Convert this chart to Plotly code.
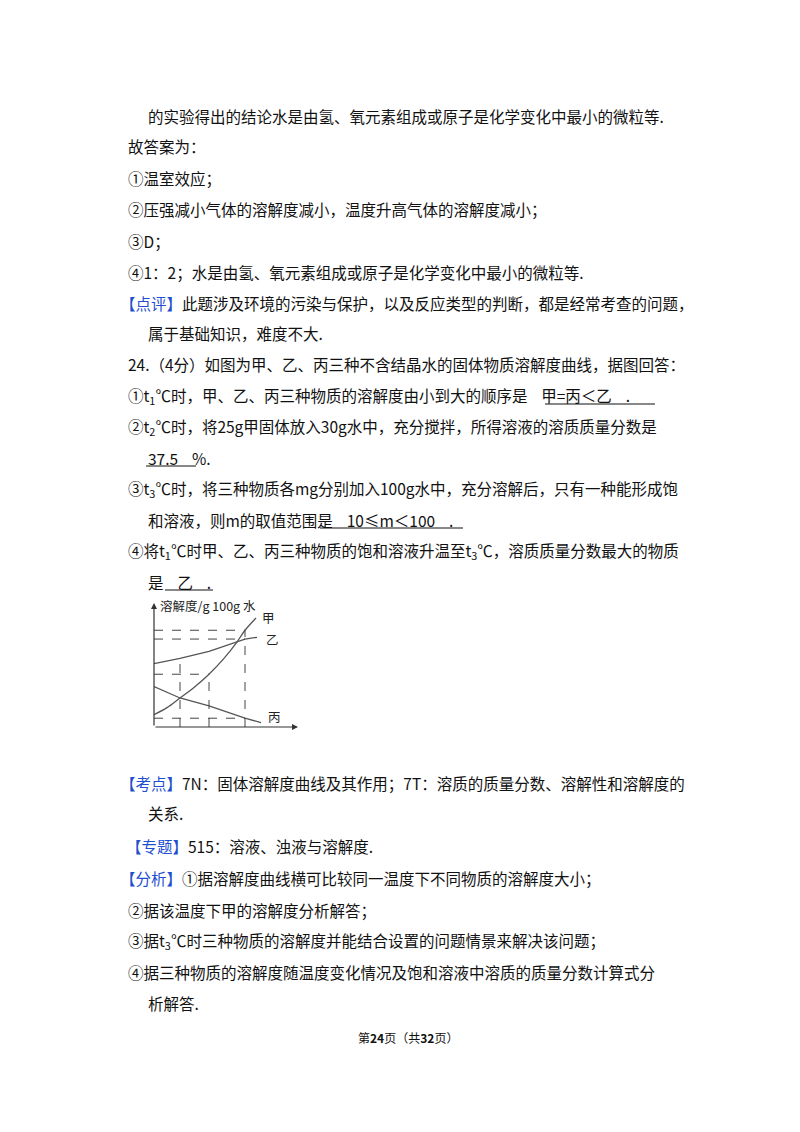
import plotly.graph_objects as go

# curve data (x in chart units where t1=26, t2=55, t3=91)
x_jia = [0, 13, 26, 40, 55, 70, 82, 91, 102]
y_jia = [14, 22, 33, 45, 60, 78, 95, 110, 124]
x_yi = [0, 26, 55, 91, 103]
y_yi = [72, 78, 86, 100, 102]
x_bing = [0, 26, 55, 91, 107]
y_bing = [46, 33, 24, 10, 5]
t_pos = [26, 55, 91]
t_labels = ['t<sub>1</sub>', 't<sub>2</sub>', 't<sub>3</sub>']
y_ticks = [10, 60, 100, 110]

lines = [
    (138, 108, "的实验得出的结论水是由氢、氧元素组成或原子是化学变化中最小的微粒等."),
    (118, 138, "故答案为："),
    (118, 170, "①温室效应；"),
    (118, 201, "②压强减小气体的溶解度减小，温度升高气体的溶解度减小；"),
    (118, 233, "③D；"),
    (118, 264, "④1：2；水是由氢、氧元素组成或原子是化学变化中最小的微粒等."),
    (110, 295, "<span style='color:#1f4fd1'>【点评】</span>此题涉及环境的污染与保护，以及反应类型的判断，都是经常考查的问题，"),
    (138, 325, "属于基础知识，难度不大."),
    (118, 356, "24.（4分）如图为甲、乙、丙三种不含结晶水的固体物质溶解度曲线，据图回答："),
    (118, 388, "①t<sub>1</sub>℃时，甲、乙、丙三种物质的溶解度由小到大的顺序是    甲=丙＜乙    ."),
    (118, 419, "②t<sub>2</sub>℃时，将25g甲固体放入30g水中，充分搅拌，所得溶液的溶质质量分数是"),
    (138, 450, "37.5    %."),
    (118, 481, "③t<sub>3</sub>℃时，将三种物质各mg分别加入100g水中，充分溶解后，只有一种能形成饱"),
    (138, 512, "和溶液，则m的取值范围是    10≤m＜100    ."),
    (118, 543, "④将t<sub>1</sub>℃时甲、乙、丙三种物质的饱和溶液升温至t<sub>3</sub>℃，溶质质量分数最大的物质"),
    (138, 574, "是    乙    ."),
    (110, 775, "<span style='color:#1f4fd1'>【考点】</span>7N：固体溶解度曲线及其作用；7T：溶质的质量分数、溶解性和溶解度的"),
    (138, 805, "关系."),
    (116, 838, "<span style='color:#1f4fd1'>【专题】</span>515：溶液、浊液与溶解度."),
    (110, 870, "<span style='color:#1f4fd1'>【分析】</span>①据溶解度曲线横可比较同一温度下不同物质的溶解度大小；"),
    (118, 902, "②据该温度下甲的溶解度分析解答；"),
    (118, 933, "③据t<sub>3</sub>℃时三种物质的溶解度并能结合设置的问题情景来解决该问题；"),
    (118, 964, "④据三种物质的溶解度随温度变化情况及饱和溶液中溶质的质量分数计算式分"),
    (138, 995, "析解答."),
]
underlines = [(537, 647, 396), (138, 188, 458), (312, 455, 520), (157, 205, 582)]

W, H = 800, 1132


def px(x):
    return x / W


def py(y):
    return 1 - y / H


fig = go.Figure()
black = '#333333'
for xs, ys, shape in [(x_jia, y_jia, 'spline'), (x_yi, y_yi, 'linear'), (x_bing, y_bing, 'linear')]:
    fig.add_trace(go.Scatter(x=xs, y=ys, mode='lines', line=dict(color='#555555', width=1.3, shape=shape),
                             showlegend=False, hoverinfo='skip'))

font = dict(family='Noto Sans CJK SC', size=15.5, color='#111111')
ann = []
for x, y, t in lines:
    ann.append(dict(x=px(x), y=py(y), xref='paper', yref='paper', text=t, showarrow=False,
                    xanchor='left', yanchor='middle', font=font))
ann.append(dict(x=0.5, y=py(1040), xref='paper', yref='paper', text='第<b>24</b>页（共<b>32</b>页）', showarrow=False,
                font=dict(family='Noto Sans CJK SC', size=12, color='#111111')))

shapes = []
for x0, x1, y in underlines:
    shapes.append(dict(type='line', xref='paper', yref='paper', x0=px(x0), x1=px(x1), y0=py(y), y1=py(y),
                       line=dict(color='#111111', width=1)))

# dashed guides
dash = dict(color='#444444', width=1, dash='dash')
guides = [(t_pos[0], y_yi[1]), (t_pos[1], y_jia[4]), (t_pos[2], y_jia[7])]
for tx, ty in guides:
    shapes.append(dict(type='line', xref='x', yref='y', x0=tx, x1=tx, y0=0, y1=ty, line=dash))
for ty, tx in [(110, 91), (100, 91), (60, 55), (10, 91)]:
    shapes.append(dict(type='line', xref='x', yref='y', x0=0, x1=tx, y0=ty, y1=ty, line=dash))
# axes with arrows
ann.append(dict(x=144, y=0, ax=0, ay=0, axref='x', ayref='y', xref='x', yref='y', showarrow=True,
                arrowhead=2, arrowsize=1, arrowwidth=1.2, arrowcolor=black, text=''))
ann.append(dict(x=0, y=141, ax=0, ay=0, axref='x', ayref='y', xref='x', yref='y', showarrow=True,
                arrowhead=2, arrowsize=1, arrowwidth=1.2, arrowcolor=black, text=''))

small = dict(family='Times New Roman, Liberation Serif', size=11, color='#222222')
for v in y_ticks:
    ann.append(dict(x=-3, y=v, xref='x', yref='y', text=str(v), showarrow=False, xanchor='right', font=small))
ann.append(dict(x=0, y=-16, xref='x', yref='y', text='0', showarrow=False, font=small))
for tx, tl in zip(t_pos, t_labels):
    ann.append(dict(x=tx + 2, y=-16, xref='x', yref='y', text=tl, showarrow=False, font=small))
cjk = dict(family='Noto Sans CJK SC', size=12.5, color='#222222')
ann.append(dict(x=100, y=-16, xref='x', yref='y', text='温度/℃', showarrow=False, xanchor='left', font=cjk))
ann.append(dict(x=4, y=138, xref='x', yref='y', text='溶解度/g 100g 水', showarrow=False, xanchor='left', font=cjk))
ann.append(dict(x=106, y=124, xref='x', yref='y', text='甲', showarrow=False, xanchor='left', font=cjk))
ann.append(dict(x=110, y=100, xref='x', yref='y', text='乙', showarrow=False, xanchor='left', font=cjk))
ann.append(dict(x=112, y=12, xref='x', yref='y', text='丙', showarrow=False, xanchor='left', font=cjk))

fig.update_layout(
    width=W, height=H, margin=dict(l=0, r=0, t=0, b=0),
    paper_bgcolor='white', plot_bgcolor='rgba(0,0,0,0)',
    xaxis=dict(domain=[146 / W, 290 / W], range=[0, 144], visible=False),
    yaxis=dict(domain=[(H - 719) / H, (H - 595) / H], range=[0, 141], visible=False),
    annotations=ann, shapes=shapes,
)
fig.write_html("out.html")
